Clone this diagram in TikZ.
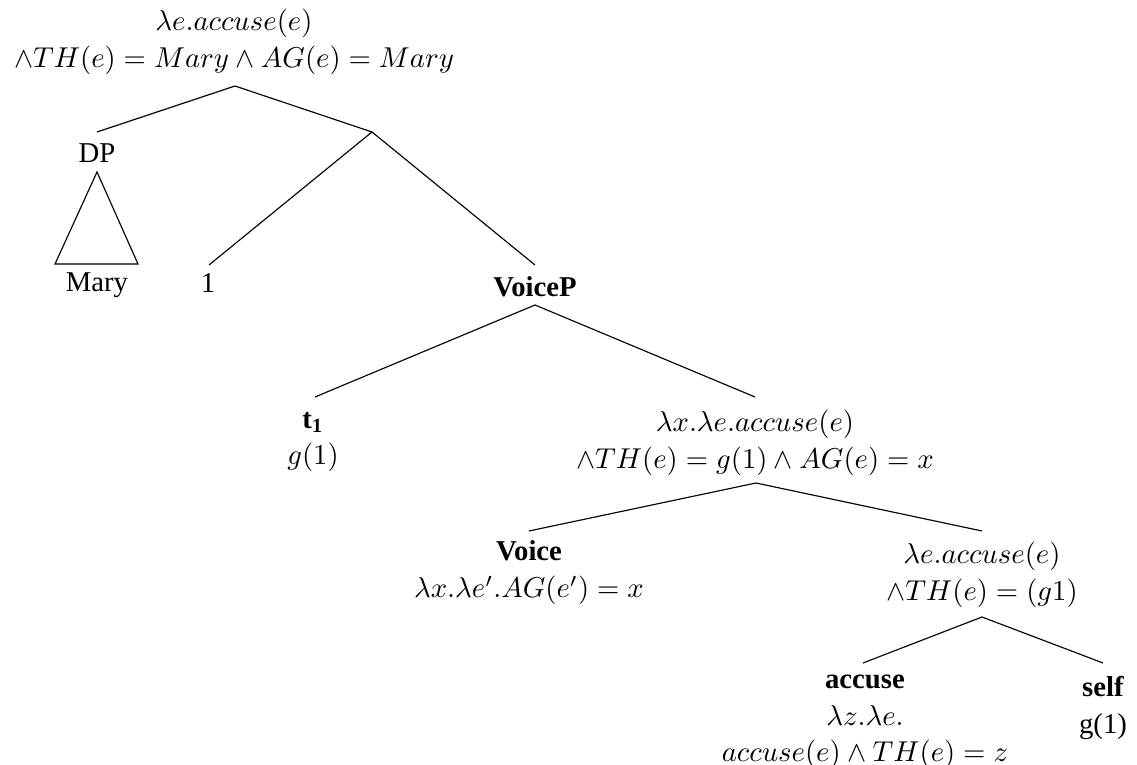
\documentclass[tikz,border=0pt]{standalone}
\usepackage[no-math]{fontspec}
\setmainfont{Liberation Serif}
\begin{document}
\begin{tikzpicture}[x=0.3484pt,y=-0.3484pt,
  lbl/.style={inner sep=0pt,align=center,font={\fontsize{10}{12.8}\selectfont}},
  edge/.style={draw=black,line width=0.4pt}]
\useasboundingbox (0,0) rectangle (1137,765);
% nodes
\node[lbl] (root) at (234,42) {$\lambda e.accuse(e)$\\$\wedge TH(e)=Mary\wedge AG(e)=Mary$};
\node[lbl] (dp) at (97,153) {DP};
\node[lbl] (mary) at (97,285) {Mary};
\node[lbl] (one) at (208,283) {1};
\node[lbl] (voicep) at (535,287) {\textbf{VoiceP}};
\node[lbl] (t1) at (313,442) {\textbf{t\textsubscript{1}}\\$g(1)$};
\node[lbl] (vbar) at (755,443) {$\lambda x.\lambda e.accuse(e)$\\$\wedge TH(e)=g(1)\wedge AG(e)=x$};
\node[lbl] (voice) at (529,573) {\textbf{Voice}\\$\lambda x.\lambda e'.AG(e')=x$};
\node[lbl] (vtwo) at (982,575) {$\lambda e.accuse(e)$\\$\wedge TH(e)=(g1)$};
\node[lbl] (accuse) at (865,722) {\textbf{accuse}\\$\lambda z.\lambda e.$\\$accuse(e)\wedge TH(e)=z$};
\node[lbl] (self) at (1103,708) {\textbf{self}\\g(1)};
% branch points
\coordinate (rootB) at (235,86);
\coordinate (dpT) at (97,132);
\coordinate (bar) at (372,132);
\coordinate (oneT) at (209,265);
\coordinate (vpT) at (535,265);
\coordinate (triA) at (97,172);
\coordinate (triL) at (55,264);
\coordinate (triR) at (138,264);
\coordinate (vpB) at (535,305);
\coordinate (t1T) at (315,397);
\coordinate (vbarT) at (755,397);
\coordinate (vbarB) at (756,483);
\coordinate (voiceT) at (529,531);
\coordinate (vtwoT) at (982,531);
\coordinate (vtwoB) at (982,617);
\coordinate (accT) at (863,663);
\coordinate (selfT) at (1103,663);
% edges
\draw[edge] (dpT) -- (rootB) -- (bar);
\draw[edge] (oneT) -- (bar) -- (vpT);
\draw[edge] (triA) -- (triL) -- (triR) -- cycle;
\draw[edge] (t1T) -- (vpB) -- (vbarT);
\draw[edge] (voiceT) -- (vbarB) -- (vtwoT);
\draw[edge] (accT) -- (vtwoB) -- (selfT);
\end{tikzpicture}
\end{document}
